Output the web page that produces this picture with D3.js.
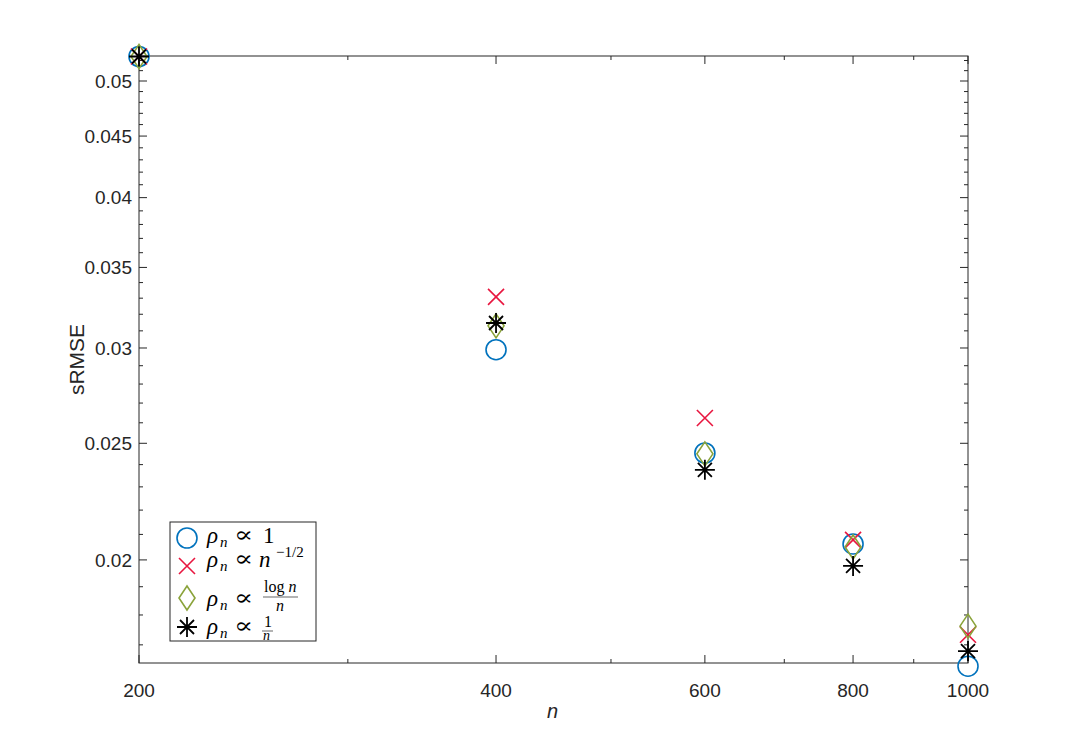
<!DOCTYPE html>
<html>
<head>
<meta charset="utf-8">
<script src="https://d3js.org/d3.v7.min.js"></script>
<style>
  body { margin: 0; background: #fff; }
  text { font-family: "Liberation Sans", Arial, sans-serif; }
  .math { font-family: "Liberation Serif", "DejaVu Serif", serif; }
  .sym { font-family: "DejaVu Serif", serif; }
</style>
</head>
<body>
<script>
// data
var nValues = [200, 400, 600, 800, 1000];
var rhoConst = [0.0524, 0.0299, 0.02454, 0.02062, 0.01632];
var rhoSqrt = [0.0524, 0.03308, 0.02624, 0.02078, 0.01733];
var rhoLog = [0.0524, 0.0313, 0.0245, 0.0205, 0.01762];
var rhoInv = [0.0524, 0.03147, 0.02376, 0.01977, 0.0168];
var xTicks = [200, 400, 600, 800, 1000];
var xMinor = [300, 500, 700, 900];
var yTicks = [0.02, 0.025, 0.03, 0.035, 0.04, 0.045, 0.05];
var yMinor = [0.017, 0.018, 0.019, 0.021, 0.022, 0.023, 0.024, 0.026, 0.027, 0.028, 0.029,
  0.031, 0.032, 0.033, 0.034, 0.036, 0.037, 0.038, 0.039, 0.041, 0.042, 0.043, 0.044,
  0.046, 0.047, 0.048, 0.049, 0.051, 0.052];

var margin = {top: 56, right: 102, bottom: 83, left: 139},
    width = 1070 - margin.left - margin.right,
    height = 746 - margin.top - margin.bottom;

var svg = d3.select("body").append("svg")
    .attr("width", 1070)
    .attr("height", 746);
var g = svg.append("g").attr("transform", "translate(" + margin.left + "," + margin.top + ")");

var x = d3.scaleLog().domain([200, 1000]).range([0, width]);
var y = d3.scaleLog().domain([0.01642, 0.05245]).range([height, 0]);

// frame
g.append("rect").attr("width", width).attr("height", height)
  .attr("fill", "none").attr("stroke", "#262626").attr("stroke-width", 1);

// ticks pointing inward on all four sides
function ticksX(vals, len) {
  vals.forEach(function(v) {
    var px = x(v);
    g.append("line").attr("x1", px).attr("x2", px).attr("y1", height).attr("y2", height - len).attr("stroke", "#262626");
    g.append("line").attr("x1", px).attr("x2", px).attr("y1", 0).attr("y2", len).attr("stroke", "#262626");
  });
}
function ticksY(vals, len) {
  vals.forEach(function(v) {
    var py = y(v);
    g.append("line").attr("x1", 0).attr("x2", len).attr("y1", py).attr("y2", py).attr("stroke", "#262626");
    g.append("line").attr("x1", width).attr("x2", width - len).attr("y1", py).attr("y2", py).attr("stroke", "#262626");
  });
}
ticksX(xTicks, 8);
ticksX(xMinor, 4);
ticksY(yTicks, 8);
ticksY(yMinor, 4);

g.selectAll(".xl").data(xTicks).enter().append("text")
  .attr("x", function(d) { return x(d); })
  .attr("y", height + 34)
  .attr("text-anchor", "middle")
  .attr("font-size", 19).attr("fill", "#262626")
  .text(function(d) { return d; });

g.selectAll(".yl").data(yTicks).enter().append("text")
  .attr("x", -7)
  .attr("y", function(d) { return y(d); })
  .attr("dy", "0.36em")
  .attr("text-anchor", "end")
  .attr("font-size", 19).attr("fill", "#262626")
  .text(function(d) { return d3.format("~g")(d); });

g.append("text")
  .attr("transform", "translate(-55," + (height / 2) + ") rotate(-90)")
  .attr("text-anchor", "middle")
  .attr("font-size", 21).attr("fill", "#262626")
  .text("sRMSE");

g.append("text")
  .attr("x", width / 2 - 1).attr("y", height + 55)
  .attr("text-anchor", "middle")
  .attr("font-size", 20).attr("font-style", "italic").attr("fill", "#262626")
  .text("n");

// marker drawers
var colors = {circle: "#0072BD", cross: "#E8163F", diamond: "#8AA33A", star: "#000000"};
function drawMarker(sel, type, cx, cy) {
  var m = sel.append("g").attr("transform", "translate(" + cx + "," + cy + ")")
    .attr("fill", "none").attr("stroke", colors[type]).attr("stroke-width", 1.6);
  if (type === "circle") {
    m.append("circle").attr("r", 10);
  } else if (type === "cross") {
    m.append("path").attr("d", "M-8,-8L8,8M-8,8L8,-8");
  } else if (type === "diamond") {
    m.append("path").attr("d", "M0,-12L8,0L0,12L-8,0Z");
  } else {
    m.append("path").attr("d", "M0,-10L0,10M-10,0L10,0M-7,-7L7,7M-7,7L7,-7").attr("stroke-width", 1.8);
  }
}

var series = [
  {type: "circle", values: rhoConst},
  {type: "cross", values: rhoSqrt},
  {type: "diamond", values: rhoLog},
  {type: "star", values: rhoInv}
];
series.forEach(function(s) {
  nValues.forEach(function(n, i) {
    drawMarker(g, s.type, x(n), y(s.values[i]));
  });
});

// legend
var leg = svg.append("g").attr("transform", "translate(170,522)");
leg.append("rect").attr("width", 146).attr("height", 119)
  .attr("fill", "#fff").attr("stroke", "#262626").attr("stroke-width", 1);

function mt(x0, y0, size, str, italic) {
  return leg.append("text").attr("class", "math").attr("x", x0).attr("y", y0)
    .attr("font-size", size).attr("font-style", italic ? "italic" : "normal").attr("fill", "#000").text(str);
}

var markerY = [16, 44, 76, 105];
var textY = [21, 45, 84, 112];
["circle", "cross", "diamond", "star"].forEach(function(t, i) {
  drawMarker(leg, t, 17, markerY[i]);
  mt(37, textY[i], 23, "ρ", true);
  mt(50, textY[i] + 4, 15, "n", true);
  leg.append("text").attr("class", "sym")
    .attr("transform", "translate(64," + (textY[i] - 1) + ") scale(1.5,1.15)")
    .attr("font-size", 19).attr("fill", "#000").text("∝");
});
mt(93, textY[0], 23, "1", false);
mt(89, textY[1], 23, "n", true);
mt(106, textY[1] - 10, 15, "−1/2", false);
// log n / n
var lg = leg.append("text").attr("class", "math").attr("x", 94).attr("y", 70).attr("font-size", 16).attr("fill", "#000");
lg.append("tspan").text("log ");
lg.append("tspan").attr("font-style", "italic").text("n");
leg.append("line").attr("x1", 93).attr("x2", 128).attr("y1", 75).attr("y2", 75).attr("stroke", "#000").attr("stroke-width", 0.6);
mt(106, 89, 16, "n", true);
// 1 / n
mt(94, 105, 16, "1", false);
leg.append("line").attr("x1", 92).attr("x2", 103).attr("y1", 109).attr("y2", 109).attr("stroke", "#000").attr("stroke-width", 0.6);
mt(93, 118, 14, "n", true);
</script>
</body>
</html>
